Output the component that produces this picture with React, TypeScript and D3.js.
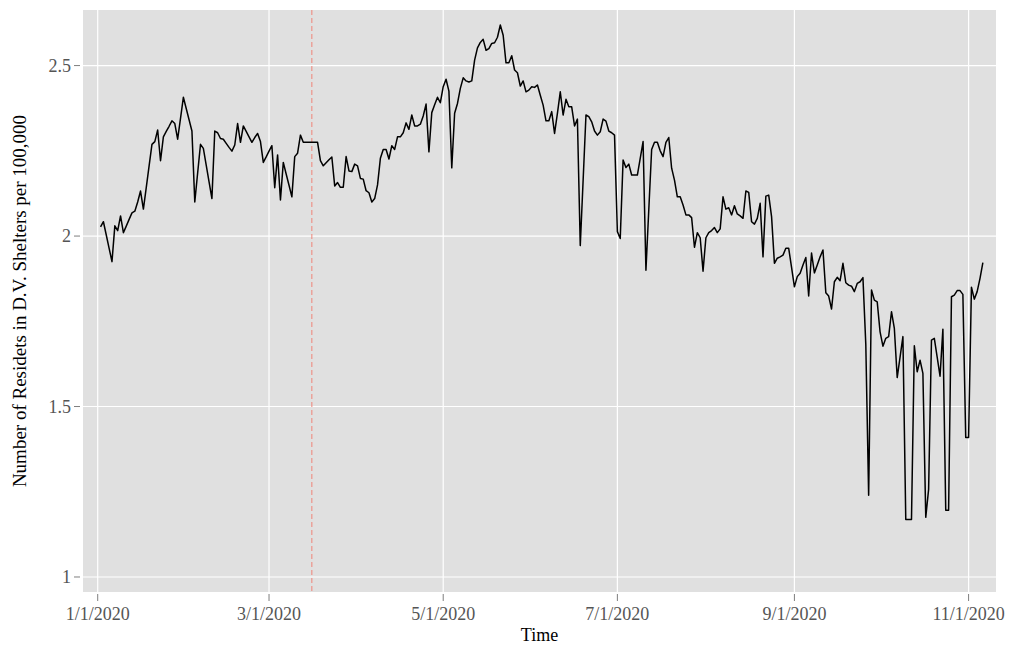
import React from "react";
import * as d3 from "d3";

const START_DATE = "2020-01-02";
const residents: number[] = [
  2.027, 2.042, 2.003, 1.964, 1.925, 2.03, 2.016, 2.059, 2.01, 2.029,
  2.049, 2.068, 2.073, 2.1, 2.132, 2.079, 2.142, 2.206, 2.269, 2.277,
  2.311, 2.221, 2.291, 2.307, 2.322, 2.338, 2.33, 2.284, 2.345, 2.407,
  2.374, 2.341, 2.308, 2.1, 2.185, 2.269, 2.257, 2.208, 2.159, 2.11,
  2.308, 2.303, 2.286, 2.284, 2.272, 2.26, 2.249, 2.267, 2.33, 2.275,
  2.323, 2.307, 2.291, 2.275, 2.289, 2.301, 2.277, 2.216, 2.232, 2.249,
  2.265, 2.142, 2.238, 2.106, 2.216, 2.182, 2.149, 2.115, 2.233, 2.243,
  2.296, 2.275, 2.275, 2.275, 2.275, 2.275, 2.275, 2.221, 2.206, 2.215,
  2.224, 2.232, 2.147, 2.157, 2.143, 2.143, 2.233, 2.191, 2.189, 2.211,
  2.206, 2.169, 2.167, 2.133, 2.127, 2.1, 2.11, 2.15, 2.228, 2.254,
  2.254, 2.226, 2.265, 2.254, 2.291, 2.291, 2.303, 2.332, 2.313, 2.355,
  2.323, 2.323, 2.328, 2.352, 2.387, 2.247, 2.362, 2.385, 2.407, 2.391,
  2.438, 2.46, 2.425, 2.2, 2.36, 2.389, 2.433, 2.464, 2.455, 2.452,
  2.455, 2.516, 2.552, 2.568, 2.577, 2.545, 2.55, 2.565, 2.567, 2.583,
  2.619, 2.589, 2.508, 2.508, 2.529, 2.487, 2.479, 2.44, 2.455, 2.423,
  2.428, 2.438, 2.436, 2.443, 2.413, 2.384, 2.338, 2.338, 2.365, 2.301,
  2.36, 2.423, 2.355, 2.401, 2.379, 2.379, 2.323, 2.343, 1.972, 2.163,
  2.355, 2.35, 2.335, 2.308, 2.296, 2.306, 2.343, 2.337, 2.308, 2.303,
  2.296, 2.013, 1.993, 2.223, 2.201, 2.211, 2.179, 2.179, 2.179, 2.228,
  2.277, 1.9, 2.077, 2.254, 2.275, 2.275, 2.25, 2.233, 2.275, 2.289,
  2.199, 2.164, 2.115, 2.115, 2.091, 2.062, 2.062, 2.054, 1.967, 2.01,
  1.995, 1.897, 1.995, 2.01, 2.016, 2.025, 2.01, 2.021, 2.115, 2.079,
  2.083, 2.062, 2.089, 2.065, 2.059, 2.052, 2.132, 2.128, 2.042, 2.035,
  2.052, 2.096, 1.939, 2.117, 2.12, 2.057, 1.92, 1.935, 1.939, 1.944,
  1.964, 1.964, 1.908, 1.851, 1.881, 1.891, 1.915, 1.937, 1.824, 1.95,
  1.892, 1.915, 1.939, 1.959, 1.834, 1.824, 1.786, 1.866, 1.879, 1.869,
  1.92, 1.863, 1.856, 1.853, 1.837, 1.861, 1.866, 1.878, 1.683, 1.24,
  1.842, 1.812, 1.807, 1.719, 1.677, 1.7, 1.705, 1.778, 1.729, 1.585,
  1.645, 1.705, 1.169, 1.169, 1.169, 1.678, 1.602, 1.636, 1.597, 1.175,
  1.257, 1.695, 1.7, 1.645, 1.589, 1.727, 1.196, 1.196, 1.822, 1.827,
  1.84, 1.84, 1.829, 1.409, 1.409, 1.85, 1.815, 1.837, 1.876, 1.922,
];

const yTicks = [1, 1.5, 2, 2.5];
const yTickLabels = ["1", "1.5", "2", "2.5"];
const xTickDates = ["2020-01-01", "2020-03-01", "2020-05-01", "2020-07-01", "2020-09-01", "2020-11-01"];
const xTickLabels = ["1/1/2020", "3/1/2020", "5/1/2020", "7/1/2020", "9/1/2020", "11/1/2020"];
const interventionDate = "2020-03-16";
const yAxisTitle = "Number of Residets in D.V. Shelters per 100,000";
const xAxisTitle = "Time";

const W = 1010;
const H = 646;
const panel = { left: 83, right: 996, top: 10, bottom: 592 };
const FONT = "'Liberation Serif', 'Times New Roman', serif";
const DAY = 86400000;

export default function App() {
  const start = new Date(START_DATE + "T00:00:00Z");
  const data = residents.map((v, i) => ({ date: new Date(start.getTime() + i * DAY), value: v }));
  const origin = new Date("2020-01-01T00:00:00Z").getTime();
  const x = d3
    .scaleUtc()
    .domain([new Date(origin - 5.15 * DAY), new Date(origin + 314.6 * DAY)])
    .range([panel.left, panel.right]);
  const y = d3.scaleLinear().domain([0.956, 2.663]).range([panel.bottom, panel.top]);
  const line = d3
    .line<{ date: Date; value: number }>()
    .x((d) => x(d.date))
    .y((d) => y(d.value));
  const xt = xTickDates.map((s) => new Date(s + "T00:00:00Z"));
  const vx = x(new Date(interventionDate + "T00:00:00Z"));

  return (
    <svg
      width={W}
      height={H}
      style={{ position: "absolute", left: 0, top: 0, display: "block", background: "#fff" }}
      fontFamily={FONT}
    >
      <rect x={panel.left} y={panel.top} width={panel.right - panel.left} height={panel.bottom - panel.top} fill="#e0e0e0" />
      {yTicks.map((t) => (
        <line key={"gy" + t} x1={panel.left} x2={panel.right} y1={y(t)} y2={y(t)} stroke="#fff" strokeWidth={1.2} />
      ))}
      {xt.map((d, i) => (
        <line key={"gx" + i} x1={x(d)} x2={x(d)} y1={panel.top} y2={panel.bottom} stroke="#fff" strokeWidth={1.2} />
      ))}
      <line x1={vx} x2={vx} y1={panel.top} y2={panel.bottom} stroke="#f08478" strokeWidth={1} strokeDasharray="5,3" />
      <path d={line(data) || ""} fill="none" stroke="#000" strokeWidth={1.5} strokeLinejoin="round" />
      {yTicks.map((t, i) => (
        <g key={"ty" + t}>
          <line x1={74} x2={80} y1={y(t)} y2={y(t)} stroke="#7f7f7f" strokeWidth={1} />
          <text x={71} y={y(t)} dy="0.35em" textAnchor="end" fontSize={18} fill="#555">
            {yTickLabels[i]}
          </text>
        </g>
      ))}
      {xt.map((d, i) => (
        <g key={"tx" + i}>
          <line x1={x(d)} x2={x(d)} y1={594} y2={601} stroke="#7f7f7f" strokeWidth={1} />
          <text x={x(d)} y={620} textAnchor="middle" fontSize={18} fill="#555">
            {xTickLabels[i]}
          </text>
        </g>
      ))}
      <text x={(panel.left + panel.right) / 2} y={641} textAnchor="middle" fontSize={18} fill="#000">
        {xAxisTitle}
      </text>
      <text
        transform={`translate(26,${(panel.top + panel.bottom) / 2}) rotate(-90)`}
        textAnchor="middle"
        fontSize={19}
        fill="#000"
      >
        {yAxisTitle}
      </text>
    </svg>
  );
}
